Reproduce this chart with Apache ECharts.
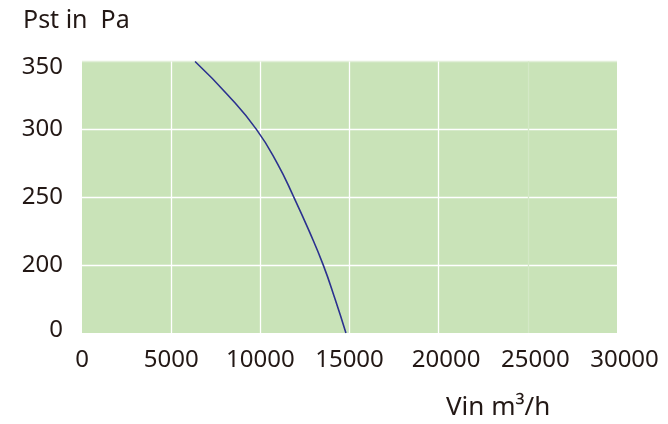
<!DOCTYPE html>
<html>
<head>
<meta charset="utf-8">
<script src="https://cdn.jsdelivr.net/npm/echarts@6/dist/echarts.min.js"></script>
<style>html,body{margin:0;padding:0;background:#fff;}#c{width:668px;height:424px;}</style>
</head>
<body>
<div id="c"></div>
<script>
// Curve: airflow (m³/h) vs static pressure (axis value; bottom tick is labelled "0")
var flow     = [6340, 8200, 9780, 10950, 11880, 12740, 13530, 14190, 14800];
var pressure = [350,  325,  300,  275,   250,   225,   200,   175,   150];
// y tick values and their printed labels
var yTicks  = [150, 200, 250, 300, 350];
var yLabels = ['0', '200', '250', '300', '350'];
var xTicks  = [0, 5000, 10000, 15000, 20000, 25000, 30000];

var data = flow.map(function (f, i) { return [f, pressure[i]]; });
var font = '"Noto Sans", "Open Sans", sans-serif';
var txt = '#231815';

var chart = echarts.init(document.getElementById('c'));
chart.setOption({
  animation: false,
  grid: { left: 82, right: 51, top: 61.5, bottom: 91, show: true, backgroundColor: '#c9e3b8', borderWidth: 0 },
  graphic: [
    { type: 'text', left: 23, top: 8, style: { text: 'Pst in  Pa', fill: txt, font: '25px ' + font } },
    { type: 'text', left: 446, top: 395, style: { text: 'Vin m³/h', fill: txt, font: '26px ' + font } }
  ],
  xAxis: {
    type: 'value', min: 0, max: 30000, interval: 5000,
    axisLine: { show: false }, axisTick: { show: false },
    splitLine: { show: true, showMinLine: true, showMaxLine: true,
      lineStyle: { width: 1.3, color: ['rgba(0,0,0,0)', '#ffffff', '#ffffff', '#ffffff', '#ffffff', '#d3e8c6', 'rgba(0,0,0,0)'] } },
    axisLabel: {
      margin: 15, color: txt, fontSize: 24, fontFamily: font,
      formatter: function (v) { return v >= 20000 ? '{r|' + v + '}' : String(v); },
      rich: { r: { padding: [0, 0, 0, 15], fontSize: 24, fontFamily: font, color: txt } }
    }
  },
  yAxis: {
    type: 'value', min: 150, max: 350, interval: 50,
    axisLine: { show: false }, axisTick: { show: false },
    splitLine: { show: true, showMinLine: true, showMaxLine: true,
      lineStyle: { width: 1.3, color: ['rgba(0,0,0,0)', '#ffffff', '#ffffff', '#ffffff', '#e2efd9'] } },
    axisLabel: {
      margin: 19, color: txt, fontSize: 24, fontFamily: font,
      formatter: function (v) {
        var i = yTicks.indexOf(v);
        var s = i >= 0 ? yLabels[i] : '';
        if (v === 350) return '{t|' + s + '}';
        if (v === 150) return '{b|' + s + '}';
        return s;
      },
      rich: {
        t: { padding: [12, 0, 0, 0], fontSize: 24, fontFamily: font, color: txt },
        b: { padding: [0, 0, 5, 0], fontSize: 24, fontFamily: font, color: txt }
      }
    }
  },
  series: [{
    type: 'line', data: data, smooth: true, symbol: 'none',
    lineStyle: { color: '#2b318f', width: 1.6 }
  }]
});
</script>
</body>
</html>
